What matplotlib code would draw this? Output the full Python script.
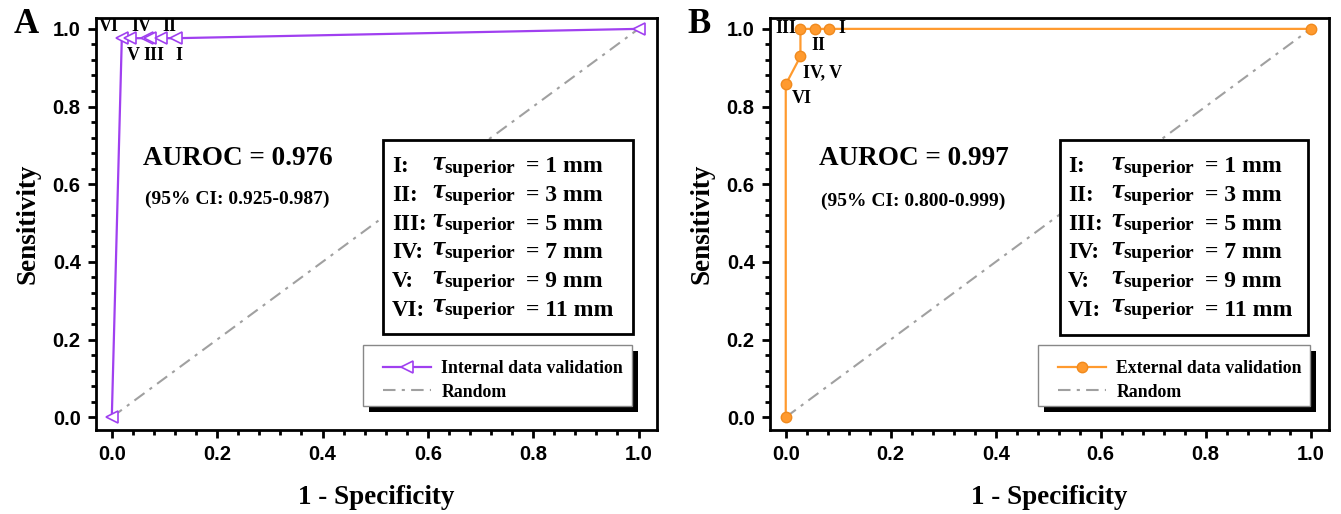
import matplotlib
matplotlib.use("Agg")
import matplotlib.pyplot as plt
from matplotlib.patches import Rectangle
from matplotlib.lines import Line2D
from matplotlib.ticker import MultipleLocator

plt.rcParams["mathtext.fontset"] = "custom"
plt.rcParams["mathtext.rm"] = "Liberation Serif:bold"
plt.rcParams["mathtext.bf"] = "Liberation Serif:bold"
plt.rcParams["mathtext.it"] = "Liberation Serif:bold:italic"

SERIF = "Liberation Serif"
SANS = "Liberation Sans"

# --- data ---
# internal validation (A): 1-specificity / sensitivity for thresholds VI..I
int_fpr = [0.0, 0.019, 0.034, 0.066, 0.072, 0.094, 0.122, 1.0]
int_tpr = [0.0, 0.976, 0.976, 0.976, 0.976, 0.976, 0.976, 1.0]
int_labels = ["", "VI", "V", "IV", "III", "II", "I", ""]
int_offsets = [None, (-13, 12), (4, -17), (-5, 12), (4, -17), (8, 12), (3, -17), None]

# external validation (B)
ext_fpr = [0.0, 0.0, 0.028, 0.028, 0.056, 0.083, 1.0]
ext_tpr = [0.0, 0.857, 0.929, 1.0, 1.0, 1.0, 1.0]
ext_labels = ["", "VI", "IV, V", "III", "II", "I", ""]
ext_offsets = [None, (16, -14), (22, -16), (-15, 0), (3, -17), (13, 0), None]

rand_x = [0.0, 1.0]
rand_y = [0.0, 1.0]

thr_names = ["I:", "II:", "III:", "IV:", "V:", "VI:"]
thr_mm = [1, 3, 5, 7, 9, 11]

auroc = ["0.976", "0.997"]
ci = ["0.925-0.987", "0.800-0.999"]

PURPLE = "#A040F0"
ORANGE = "#FF9A2E"
GRAY = "#A0A0A0"
DASHDOT = (0, (6, 3, 1.5, 3))

fig = plt.figure(figsize=(13.41, 5.14), dpi=100)
W, H = 1341, 514


def px_axes(left, top, right, bottom):
    return fig.add_axes([left / W, 1 - bottom / H, (right - left) / W, (bottom - top) / H])


axA = px_axes(96, 18, 657, 430)
axB = px_axes(770, 18, 1329, 430)


def style(ax):
    ax.set_xlim(-0.03, 1.035)
    ax.set_ylim(-0.033, 1.028)
    ax.xaxis.set_major_locator(MultipleLocator(0.2))
    ax.xaxis.set_minor_locator(MultipleLocator(0.04))
    ax.yaxis.set_major_locator(MultipleLocator(0.2))
    ax.yaxis.set_minor_locator(MultipleLocator(0.04))
    ax.tick_params(which="major", direction="out", length=6, width=2, pad=5)
    ax.tick_params(which="minor", direction="out", length=3.5, width=2)
    for s in ax.spines.values():
        s.set_linewidth(2)
    for lab in ax.get_xticklabels() + ax.get_yticklabels():
        lab.set_fontfamily(SANS)
        lab.set_fontweight("bold")
        lab.set_fontsize(14.5)
    ax.set_xlabel("1 - Specificity", fontfamily=SERIF, fontweight="bold", fontsize=19.5, labelpad=15)
    ax.set_ylabel("Sensitivity", fontfamily=SERIF, fontweight="bold", fontsize=19.5, labelpad=9)


def tau_box(ax, box, col_label, col_tau, col_eq, rows_top, rows_bottom):
    x0, y0, x1, y1 = box
    ax.add_patch(Rectangle((x0, y0), x1 - x0, y1 - y0, transform=ax.transAxes,
                           facecolor="white", edgecolor="black", linewidth=2, zorder=4))
    n = len(thr_names)
    for i, (name, mm) in enumerate(zip(thr_names, thr_mm)):
        y = rows_top + (rows_bottom - rows_top) * i / (n - 1)
        ax.text(col_label, y, name, transform=ax.transAxes, fontfamily=SERIF,
                fontweight="bold", fontsize=16.5, va="center", ha="left", zorder=5)
        ax.text(col_tau, y, r"$\tau_{\mathbf{superior}}$", transform=ax.transAxes,
                fontfamily=SERIF, fontweight="bold", fontsize=20, va="center", ha="left", zorder=5)
        ax.text(col_eq, y, "= %d mm" % mm, transform=ax.transAxes,
                fontfamily=SERIF, fontweight="bold", fontsize=17, va="center", ha="left", zorder=5)


def line_legend(ax, box, handle, label):
    x0, y0, x1, y1 = box
    # shadow
    ax.add_patch(Rectangle((x0 + 0.011, y0 - 0.015), x1 - x0, y1 - y0, transform=ax.transAxes,
                           facecolor="black", edgecolor="black", linewidth=0, zorder=4))
    ax.add_patch(Rectangle((x0, y0), x1 - x0, y1 - y0, transform=ax.transAxes,
                           facecolor="white", edgecolor="#888888", linewidth=1, zorder=4.5))
    rnd = Line2D([], [], color=GRAY, linestyle=DASHDOT, linewidth=1.5)
    leg = ax.legend([handle, rnd], [label, "Random"], loc="upper left",
                    bbox_to_anchor=(x0 + 0.01, y1 - 0.003), frameon=False,
                    prop={"family": SERIF, "weight": "bold", "size": 12.8},
                    handlelength=2.7, handletextpad=0.6, labelspacing=0.35, borderpad=0.3)
    leg.set_zorder(5)


# ---------- panel A ----------
style(axA)
axA.plot(rand_x, rand_y, color=GRAY, linestyle=DASHDOT, linewidth=1.5, zorder=2)
hA, = axA.plot(int_fpr, int_tpr, color=PURPLE, linewidth=1.6, marker="<", markersize=8.5,
               markerfacecolor="white", markeredgecolor=PURPLE, markeredgewidth=1.2, zorder=3)
for x, y, lab, off in zip(int_fpr, int_tpr, int_labels, int_offsets):
    if lab:
        axA.annotate(lab, (x, y), xytext=off, textcoords="offset pixels", ha="center", va="center",
                     fontfamily=SERIF, fontweight="bold", fontsize=13, zorder=6)
axA.text(0.252, 0.658, "AUROC = " + auroc[0], transform=axA.transAxes, ha="center", va="center",
         fontfamily=SERIF, fontweight="bold", fontsize=19.5)
axA.text(0.252, 0.56, "(95% CI: " + ci[0] + ")", transform=axA.transAxes, ha="center", va="center",
         fontfamily=SERIF, fontweight="bold", fontsize=14)
tau_box(axA, ((383 - 96) / 561, (430 - 334) / 412, (633 - 96) / 561, (430 - 140) / 412),
        (392 - 96) / 561, (432 - 96) / 561, (526 - 96) / 561, (430 - 167) / 412, (430 - 310) / 412)
line_legend(axA, ((363 - 96) / 561, (430 - 406) / 412, (632 - 96) / 561, (430 - 345) / 412),
            hA, "Internal data validation")
axA.text(-0.147, 0.985, "A", transform=axA.transAxes, fontfamily=SERIF, fontweight="bold",
         fontsize=25, ha="left", va="center")

# ---------- panel B ----------
style(axB)
axB.plot(rand_x, rand_y, color=GRAY, linestyle=DASHDOT, linewidth=1.5, zorder=2)
hB, = axB.plot(ext_fpr, ext_tpr, color=ORANGE, linewidth=1.6, marker="o", markersize=7.5,
               markerfacecolor=ORANGE, markeredgecolor="#F08A1E", markeredgewidth=1, zorder=3)
for x, y, lab, off in zip(ext_fpr, ext_tpr, ext_labels, ext_offsets):
    if lab:
        axB.annotate(lab, (x, y), xytext=off, textcoords="offset pixels", ha="center", va="center",
                     fontfamily=SERIF, fontweight="bold", fontsize=13, zorder=6)
axB.text(0.257, 0.658, "AUROC = " + auroc[1], transform=axB.transAxes, ha="center", va="center",
         fontfamily=SERIF, fontweight="bold", fontsize=19.5)
axB.text(0.257, 0.556, "(95% CI: " + ci[1] + ")", transform=axB.transAxes, ha="center", va="center",
         fontfamily=SERIF, fontweight="bold", fontsize=14)
tau_box(axB, ((1060 - 770) / 559, (430 - 335) / 412, (1308 - 770) / 559, (430 - 140) / 412),
        (1068 - 770) / 559, (1111 - 770) / 559, (1205 - 770) / 559, (430 - 167) / 412, (430 - 310) / 412)
line_legend(axB, ((1038 - 770) / 559, (430 - 406) / 412, (1310 - 770) / 559, (430 - 345) / 412),
            hB, "External data validation")
axB.text(-0.147, 0.985, "B", transform=axB.transAxes, fontfamily=SERIF, fontweight="bold",
         fontsize=25, ha="left", va="center")

fig.savefig("out.png", dpi=100)
